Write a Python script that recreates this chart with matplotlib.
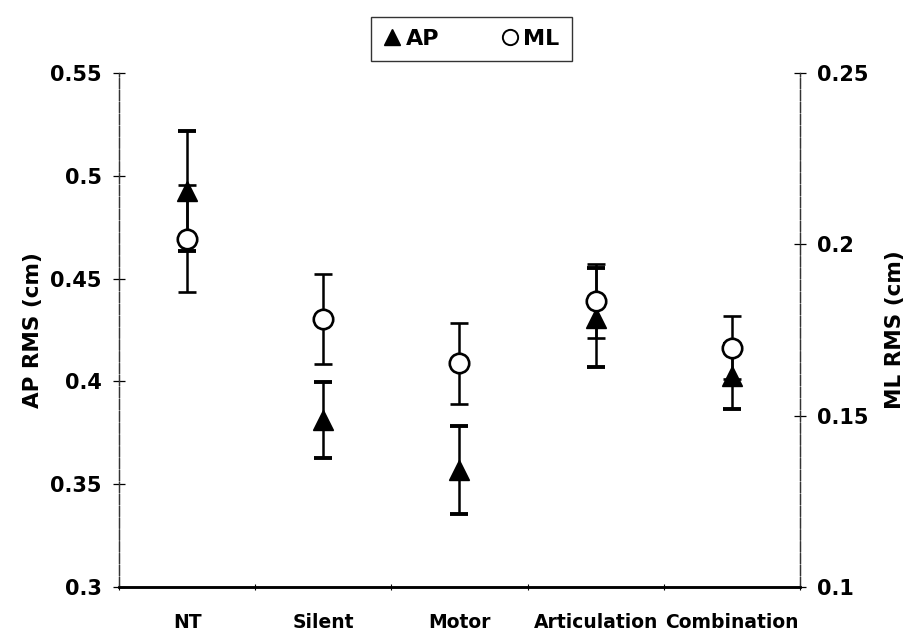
import numpy as np
import matplotlib
matplotlib.use('Agg')
import matplotlib.pyplot as plt
from matplotlib.lines import Line2D

plt.rcParams['font.family'] = ['DejaVu Sans']
plt.rcParams['font.weight'] = 'bold'

# data
cats = ['NT', 'Silent', 'Motor', 'Articulation', 'Combination']
ap = [0.4926, 0.3813, 0.3569, 0.431, 0.4024]
ap_err = [0.029, 0.0185, 0.0215, 0.024, 0.016]
ml = [0.2017, 0.1782, 0.1653, 0.1836, 0.1698]
ml_err = [0.0157, 0.0132, 0.0118, 0.0108, 0.0092]

x = np.arange(len(cats))

fig = plt.figure(figsize=(9.1, 6.35), dpi=100)
ax = fig.add_axes([0.1308, 0.0756, 0.879 - 0.1308, 0.885 - 0.0756])
ax2 = ax.twinx()

### AP on the left axis
ax.errorbar(x, ap, yerr=ap_err, fmt='^', color='black', ms=15,
            ecolor='black', elinewidth=1.8, capsize=6.5, capthick=2.8, zorder=3)
### ML on the right axis (drawn on top)
ax2.errorbar(x, ml, yerr=ml_err, fmt='o', mfc='white', mec='black', mew=1.9, ms=14,
             ecolor='black', elinewidth=1.8, capsize=6.5, capthick=2.8, zorder=3)

ax.set_xlim(-0.5, len(cats) - 0.5)
ax.set_ylim(0.3, 0.55)
ax2.set_ylim(0.1, 0.25)
ax.set_yticks([0.3, 0.35, 0.4, 0.45, 0.5, 0.55])
ax.set_yticklabels(['0.3', '0.35', '0.4', '0.45', '0.5', '0.55'])
ax2.set_yticks([0.1, 0.15, 0.2, 0.25])
ax2.set_yticklabels(['0.1', '0.15', '0.2', '0.25'])

# category labels between boundary ticks
ax.set_xticks(np.arange(len(cats) + 1) - 0.5)
ax.set_xticklabels([])
ax.set_xticks(x, minor=True)
ax.set_xticklabels(cats, minor=True, fontsize=13.5, fontweight='bold')
ax.tick_params(axis='x', which='major', direction='inout', length=5, width=0.8)
ax.tick_params(axis='x', which='minor', length=0, pad=19)

ax.tick_params(axis='y', direction='inout', length=9, width=0.9, labelsize=15, pad=8)
ax2.tick_params(axis='y', direction='inout', length=9, width=0.9, labelsize=15, pad=8)
for lab in ax.get_yticklabels() + ax2.get_yticklabels():
    lab.set_fontweight('bold')

ax.set_ylabel('AP RMS (cm)', fontsize=15.5, fontweight='bold', labelpad=5)
ax2.set_ylabel('ML RMS (cm)', fontsize=15.5, fontweight='bold', labelpad=12)

# frame
for a in (ax, ax2):
    a.spines['top'].set_visible(False)
    a.spines['left'].set_color('#333333')
    a.spines['left'].set_linewidth(0.9)
    a.spines['left'].set_linestyle((0, (8, 1.5)))
    a.spines['right'].set_color('#333333')
    a.spines['right'].set_linewidth(0.9)
    a.spines['right'].set_linestyle((0, (8, 1.5)))
    a.spines['bottom'].set_color('black')
    a.spines['bottom'].set_linewidth(1.8)

# legend
handles = [Line2D([], [], ls='none', marker='^', color='black', ms=12),
           Line2D([], [], ls='none', marker='o', mfc='white', mec='black', mew=1.4, ms=11)]
leg = fig.legend(handles, ['AP', 'ML'], loc='center', bbox_to_anchor=(0.518, 0.939),
                 ncol=2, frameon=True, fancybox=False, edgecolor='black',
                 prop={'size': 16, 'weight': 'bold'}, handlelength=0.8, handletextpad=0.2,
                 columnspacing=2.8, borderpad=0.55, borderaxespad=0)
leg.get_frame().set_linewidth(1.0)

plt.savefig('out.png', dpi=100)
